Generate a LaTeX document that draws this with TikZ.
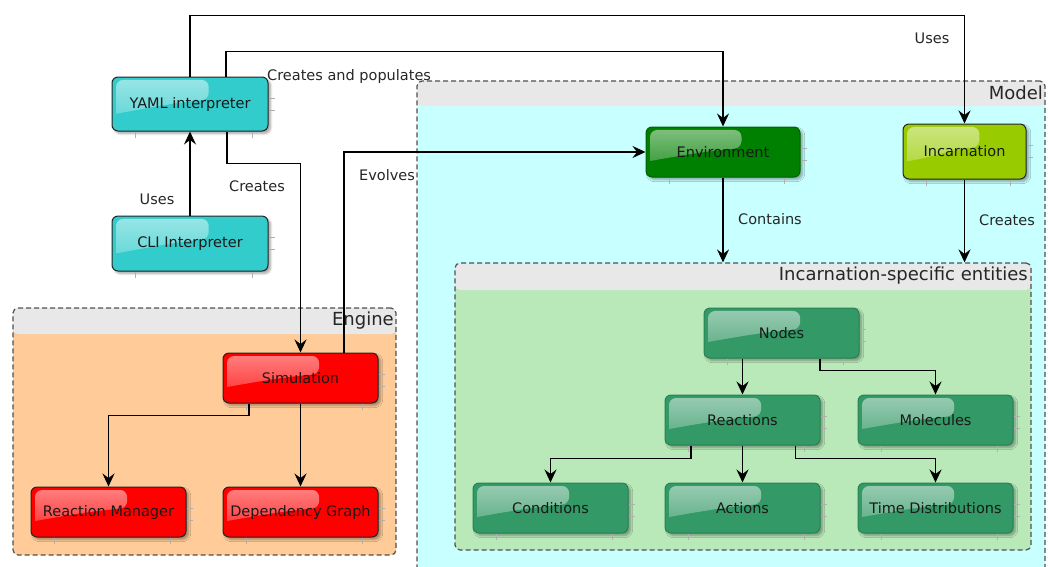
\documentclass[tikz,border=0pt]{standalone}
\usepackage{fontspec}
\setmainfont{DejaVu Sans}
\usetikzlibrary{arrows.meta,shadows.blur,fadings,calc}

\definecolor{cyanfill}{HTML}{33CCCC}
\definecolor{redfill}{HTML}{FF0000}
\definecolor{envfill}{HTML}{008000}
\definecolor{envline}{HTML}{006000}
\definecolor{incfill}{HTML}{99CC00}
\definecolor{entfill}{HTML}{339966}
\definecolor{entline}{HTML}{2A7F55}
\definecolor{boxline}{HTML}{222222}
\definecolor{headgray}{HTML}{E8E8E8}
\definecolor{enginebody}{HTML}{FFCC99}
\definecolor{modelbody}{HTML}{C8FFFF}
\definecolor{entbody}{HTML}{B9E9B9}
\definecolor{groupline}{HTML}{505050}
\definecolor{tickgray}{HTML}{B0B0B0}

% highlight fades out towards its lower edge
\tikzfading[name=glossfade, top color=transparent!15, bottom color=transparent!75]

\newcommand{\nodefont}{\fontsize{14.5pt}{17pt}\selectfont}
\newcommand{\titlefont}{\fontsize{18pt}{21pt}\selectfont}

\begin{document}
\begin{tikzpicture}[x=1pt, y=-1pt,
  box/.style={rectangle, rounded corners=6pt, line width=1pt,
    minimum width=155pt, minimum height=50pt, inner sep=0pt,
    text=black!90, font=\nodefont,
    blur shadow={shadow xshift=2.5pt, shadow yshift=-2.5pt,
      shadow blur steps=6, shadow opacity=35},
    path picture={\fill[white, opacity=0.6, path fading=glossfade]
      let \p1=(path picture bounding box.north west),
          \p2=(path picture bounding box.south east) in
      [rounded corners=7pt]
      ({\x1+4pt},{\y1-0.3*(\y1-\y2)}) -- ({\x1+4pt},{\y1-3pt})
      -- ({\x1+0.62*(\x2-\x1)},{\y1-3pt})
      -- ({\x1+0.62*(\x2-\x1)},{\y1-0.42*(\y1-\y2)})
      [rounded corners=0pt] to[out=185,in=10] ({\x1+4pt},{\y1-0.68*(\y1-\y2)}) -- cycle;}},
  cyanbox/.style={box, fill=cyanfill, draw=boxline},
  redbox/.style={box, fill=redfill, draw=boxline},
  envbox/.style={box, fill=envfill, draw=envline},
  incbox/.style={box, fill=incfill, draw=boxline},
  entbox/.style={box, fill=entfill, draw=entline},
  group/.style={rectangle, rounded corners=5pt, draw=groupline, line width=1.2pt,
    dash pattern=on 5pt off 3pt, inner sep=0pt,
    path picture={\fill[headgray] (path picture bounding box.north west)
      rectangle ([yshift=-#1]path picture bounding box.north east);}},
  grouptitle/.style={font=\titlefont, text=black!85, anchor=east, inner sep=0pt},
  lbl/.style={font=\nodefont, text=black!85, inner sep=0pt},
  arr/.style={-{Stealth[length=13pt, width=12pt, inset=4.5pt]}, line width=1.2pt, black},
  arrthick/.style={arr, line width=1.9pt},
  tick/.style={draw=tickgray, line width=0.6pt}
]
\useasboundingbox (0,0) rectangle (1048,566);
\clip (0,0) rectangle (1048,566);

% ---- group containers ----
\node[group=26pt, fill=enginebody, minimum width=383pt, minimum height=247pt] (engine) at (204.5,431.5) {};
\node[grouptitle] (enginetitle) at (394,321) {Engine};

\node[group=25pt, fill=modelbody, minimum width=628pt, minimum height=494pt] (model) at (731,328) {};
\node[grouptitle] (modeltitle) at (1043,93) {Model};

\node[group=27pt, fill=entbody, minimum width=576pt, minimum height=287pt] (ies) at (743,406.5) {};
\node[grouptitle] (iestitle) at (1028,276) {Incarnation-specific entities};

% ---- components ----
\node[cyanbox, minimum width=156pt, minimum height=54pt] (yaml) at (190,104) {YAML interpreter};
\node[cyanbox, minimum width=156pt, minimum height=55pt] (cli) at (190,243.5) {CLI Interpreter};

\node[redbox] (sim) at (300.5,378) {Simulation};
\node[redbox] (rm) at (108.5,512) {Reaction Manager};
\node[redbox] (dg) at (300.5,512) {Dependency Graph};

\node[envbox, minimum width=154pt] (env) at (723,152) {Environment};
\node[incbox, minimum width=123pt, minimum height=55pt] (inc) at (964.5,151.5) {Incarnation};

\node[entbox] (nodes) at (781.5,333) {Nodes};
\node[entbox] (reac) at (742.5,420) {Reactions};
\node[entbox] (mol) at (935.5,420) {Molecules};
\node[entbox] (cond) at (550.5,508) {Conditions};
\node[entbox] (act) at (742.5,508) {Actions};
\node[entbox] (td) at (935.5,508) {Time Distributions};

% small grid ticks beside each component
\foreach \n in {yaml,cli,sim,rm,dg,env,inc,nodes,reac,mol,cond,act,td}{
  \draw[tick] ([yshift=-22pt]\n.north east) -- ++(6pt,0);
  \draw[tick] ([yshift=-34pt]\n.north east) -- ++(6pt,0);
  \draw[tick] ([xshift=24pt]\n.south west) -- ++(0,-6pt);
  \draw[tick] ([xshift=-16pt]\n.south east) -- ++(0,-6pt);
}

% ---- connectors ----
\draw[arrthick] (yaml.north) -- ++(0,61pt) -| (inc.north);
\node[lbl] (usestop) at (932,38) {Uses};

\draw[arr] ([xshift=36pt]yaml.north) -- ++(0,25pt) -| (env.north);
\node[lbl, anchor=west] (cap) at (267,76) {Creates and populates};

\draw[arr] ([xshift=37pt]yaml.south) -- ++(0,-32pt) -| (sim.north);
\node[lbl] (createssim) at (257,186) {Creates};

\draw[arr] (cli.north) -- (yaml.south);
\node[lbl] (usescli) at (157,199) {Uses};

\draw[arr] ([xshift=43.5pt]sim.north) |- (env.west);
\node[lbl] (evolves) at (387,175) {Evolves};

\draw[arr] (env.south) -- (env.south |- ies.north);
\node[lbl] (contains) at (770,219) {Contains};

\draw[arrthick] (inc.south) -- (inc.south |- ies.north);
\node[lbl] (createsinc) at (1007,220) {Creates};

\draw[arr, line width=1.5pt] ([xshift=-51.5pt]sim.south) -- ++(0,-12pt) -| (rm.north);
\draw[arr] (sim.south) -- (dg.north);

\draw[arrthick] (nodes.south -| reac.north) -- (reac.north);
\draw[arr] ([xshift=38.5pt]nodes.south) -- ++(0,-12pt) -| (mol.north);
\draw[arr] ([xshift=-51.5pt]reac.south) -- ++(0,-13pt) -| (cond.north);
\draw[arrthick] (reac.south) -- (act.north);
\draw[arr] ([xshift=53pt]reac.south) -- ++(0,-13pt) -| (td.north);
\end{tikzpicture}
\end{document}
